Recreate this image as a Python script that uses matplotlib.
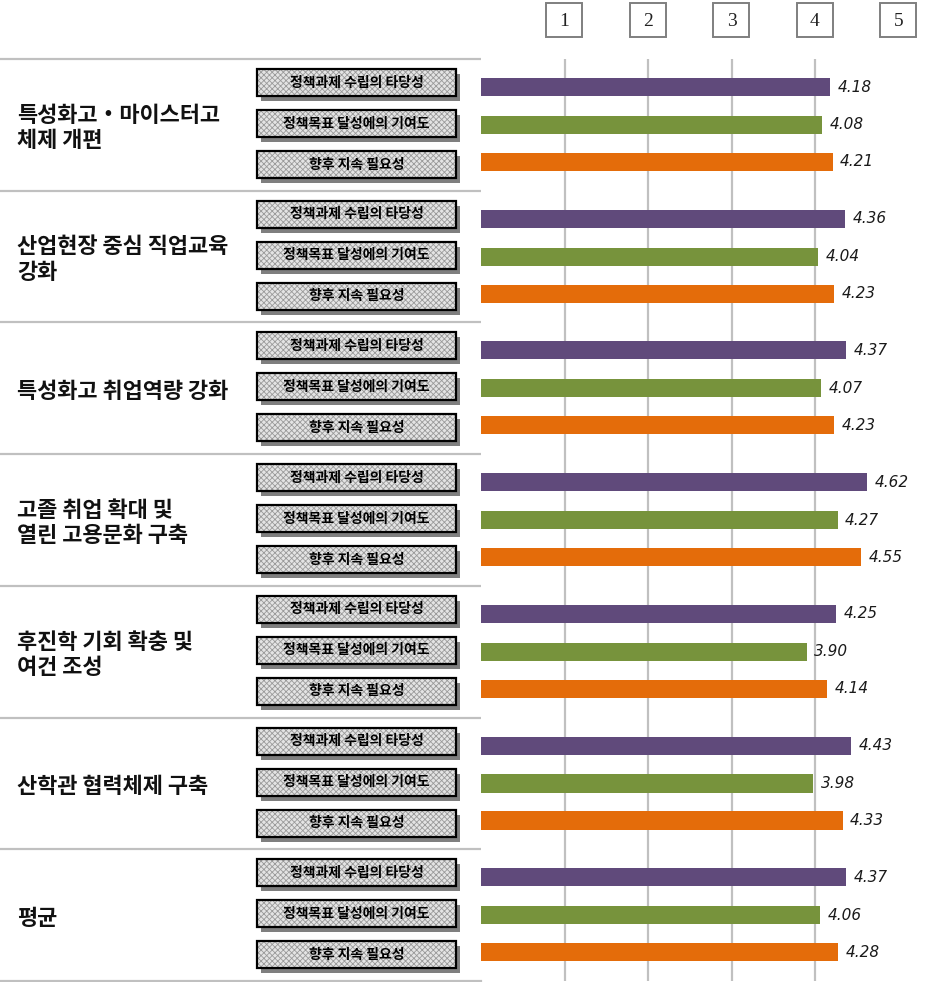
import matplotlib
matplotlib.use('Agg')
import matplotlib.pyplot as plt
from matplotlib.patches import Rectangle
import matplotlib.transforms as mtransforms

plt.rcParams['font.family'] = ['Noto Sans CJK KR', 'DejaVu Sans']
plt.rcParams['hatch.linewidth'] = 0.6

groups = ['특성화고・마이스터고\n체제 개편', '산업현장 중심 직업교육\n강화', '특성화고 취업역량 강화',
          '고졸 취업 확대 및\n열린 고용문화 구축', '후진학 기회 확충 및\n여건 조성',
          '산학관 협력체제 구축', '평균']
items = ['정책과제 수립의 타당성', '정책목표 달성에의 기여도', '향후 지속 필요성']
validity = [4.18, 4.36, 4.37, 4.62, 4.25, 4.43, 4.37]
contribution = [4.08, 4.04, 4.07, 4.27, 3.90, 3.98, 4.06]
necessity = [4.21, 4.23, 4.23, 4.55, 4.14, 4.33, 4.28]
scale_ticks = [1, 2, 3, 4, 5]
colors = ['#604a7b', '#77933c', '#e46c0a']

W, H = 927, 982
top, gh = 59, 131.7
x0 = 481
pxu = 83.5
xmax = (W - x0) / pxu

fig = plt.figure(figsize=(W / 100, H / 100), dpi=100)

# background axes in pixel coords for the left side decoration
bg = fig.add_axes([0, 0, 1, 1])
bg.set_xlim(0, W)
bg.set_ylim(H, 0)
bg.axis('off')

offs = [0.213, 0.501, 0.782]
box_offs = [10, 51, 92]

for i, g in enumerate(groups):
    gy = top + i * gh
    bg.plot([0, x0], [gy, gy], color='#c0c0c0', lw=1.6, solid_capstyle='butt')
    bg.text(17, gy + gh / 2 + 3, g, fontsize=15.8, fontweight='bold', va='center', ha='left',
            linespacing=1.12, color='#111111')
    for j, it in enumerate(items):
        by = gy + box_offs[j]
        bg.add_patch(Rectangle((261, by + 5), 199, 27, facecolor='#7f7f7f', edgecolor='none'))
        bg.add_patch(Rectangle((257, by), 199, 27, facecolor='#e4e4e4', edgecolor='#9a9a9a',
                               hatch='xxxxxx', lw=0))
        bg.add_patch(Rectangle((257, by), 199, 27, fill=False, edgecolor='black', lw=1.6))
        bg.text(356.5, by + 13.5, it, fontsize=10, fontweight='bold', ha='center', va='center')
bg.plot([0, x0], [top + 7 * gh, top + 7 * gh], color='#c0c0c0', lw=1.6)

# bar axes
ax = fig.add_axes([x0 / W, (H - top - 7 * gh) / H, (W - x0) / W, 7 * gh / H])
ax.set_xlim(0, xmax)
ax.set_ylim(7, 0)
ax.patch.set_alpha(0)
for s in ax.spines.values():
    s.set_visible(False)
ax.set_xticks([])
ax.set_yticks([])

for t in scale_ticks[:-1]:
    ax.axvline(t, color='#c0c0c0', lw=1.6, zorder=0)

series = [validity, contribution, necessity]
for j, vals in enumerate(series):
    ys = [i + offs[j] for i in range(len(vals))]
    ax.barh(ys, vals, height=0.137, color=colors[j], zorder=2)
    for y, v in zip(ys, vals):
        ax.annotate(f'{v:.2f}', (v, y), xytext=(5.5, 0), textcoords='offset points',
                    va='center', ha='left', fontsize=11, style='italic',
                    family='DejaVu Sans', color='#1a1a1a')

# number boxes on top
trans = mtransforms.blended_transform_factory(ax.transData, bg.transData)
for t in scale_ticks:
    xc = x0 + t * pxu
    bg.add_patch(Rectangle((xc - 18, 3), 36, 34, fill=False, edgecolor='#7f7f7f', lw=1.4))
    bg.text(t, 21, str(t), transform=trans, ha='center', va='center', fontsize=14,
            family='Liberation Serif', color='#222222')

fig.savefig('out.png', dpi=100)
